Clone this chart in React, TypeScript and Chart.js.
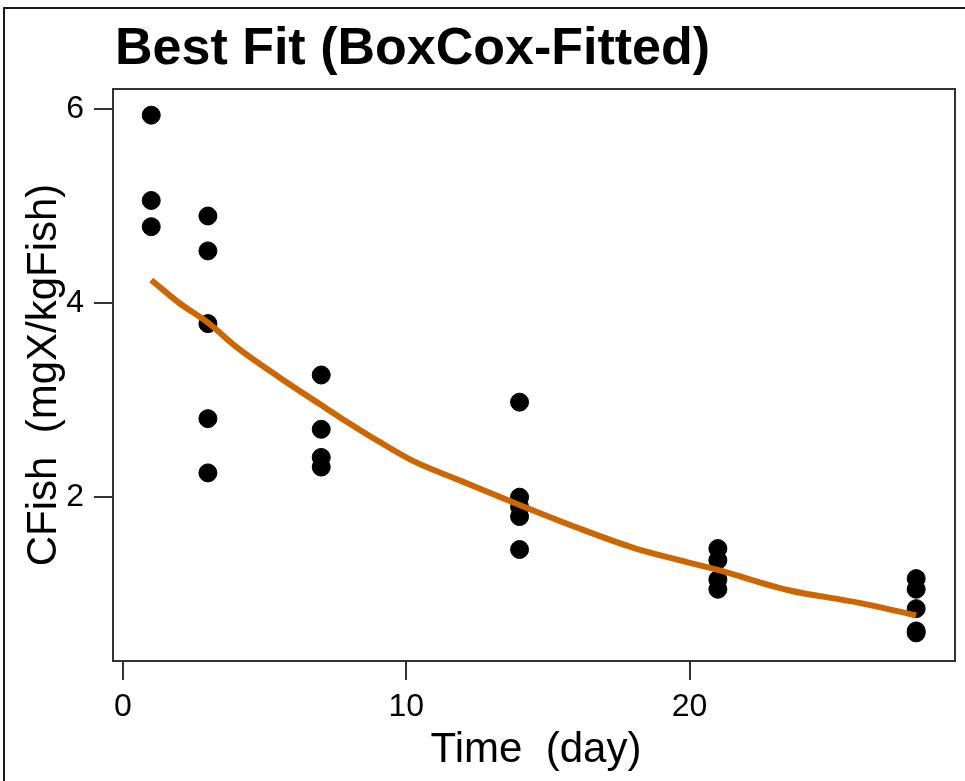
import React, { useEffect, useRef } from "react";
import { Chart, registerables } from "chart.js";

Chart.register(...registerables);

// Observed fish concentrations by sampling day
const days = [1, 1, 1, 3, 3, 3, 3, 3, 7, 7, 7, 7, 14, 14, 14, 14, 14, 21, 21, 21, 21, 28, 28, 28, 28, 28];
const cfish = [
  5.94, 5.06, 4.79,
  4.9, 4.54, 3.79, 2.81, 2.25,
  3.26, 2.7, 2.41, 2.31,
  2.98, 2.0, 1.9, 1.8, 1.46,
  1.47, 1.35, 1.15, 1.05,
  1.16, 1.05, 0.85, 0.62, 0.6,
];

// Fitted (Box-Cox) depuration curve
const fitDays = [1, 2, 3, 4, 5.5, 7, 8, 9, 10.2, 12, 14, 16, 18, 19.5, 21, 23.5, 26, 28];
const fitValues = [4.24, 4.0, 3.8, 3.55, 3.24, 2.95, 2.76, 2.58, 2.38, 2.16, 1.92, 1.69, 1.48, 1.36, 1.25, 1.04, 0.91, 0.78];

const xTicks = [0, 10, 20];
const yTicks = [2, 4, 6];

const titleText = "Best Fit (BoxCox-Fitted)";
const xTitle = "Time  (day)";
const yTitle = "CFish  (mgX/kgFish)";

const FONT = '"Liberation Sans", Arial, Helvetica, sans-serif';

const framePlugin = {
  id: "framePlugin",
  afterDraw(chart: any) {
    const { ctx, chartArea } = chart;
    ctx.save();
    // outer device frame
    ctx.strokeStyle = "#1a1a1a";
    ctx.lineWidth = 2;
    ctx.strokeRect(4, 8, 1000, 1000);
    // plot box
    ctx.strokeStyle = "#333";
    ctx.lineWidth = 2;
    ctx.strokeRect(chartArea.left, chartArea.top, chartArea.right - chartArea.left, chartArea.bottom - chartArea.top);

    ctx.fillStyle = "#000";
    ctx.font = `bold 52px ${FONT}`;
    ctx.textAlign = "left";
    ctx.textBaseline = "alphabetic";
    ctx.fillText(titleText, 115, 64);

    ctx.font = `42px ${FONT}`;
    ctx.textAlign = "center";
    ctx.fillText(xTitle, 536, 762);

    ctx.translate(56, 375);
    ctx.rotate(-Math.PI / 2);
    ctx.fillText(yTitle, 0, 0);
    ctx.restore();
  },
};

export default function App() {
  const ref = useRef<HTMLCanvasElement>(null);

  useEffect(() => {
    if (!ref.current) return;
    const points = days.map((d, i) => ({ x: d, y: cfish[i] }));
    const fit = fitDays.map((d, i) => ({ x: d, y: fitValues[i] }));

    const chart = new Chart(ref.current, {
      type: "scatter",
      data: {
        datasets: [
          {
            type: "line",
            label: "fit",
            data: fit,
            borderColor: "#CD6600",
            borderWidth: 6,
            pointRadius: 0,
            showLine: true,
            fill: false,
            cubicInterpolationMode: "monotone",
            order: 0,
          } as any,
          {
            label: "observed",
            data: points,
            backgroundColor: "#000",
            borderColor: "#000",
            pointRadius: 9,
            pointHoverRadius: 9,
            order: 1,
          },
        ],
      },
      options: {
        responsive: false,
        animation: false,
        events: [],
        layout: { padding: { top: 89, right: 5, left: 0, bottom: 0 } },
        plugins: {
          legend: { display: false },
          title: { display: false },
          tooltip: { enabled: false },
        },
        scales: {
          x: {
            type: "linear",
            min: -0.35,
            max: 29.37,
            afterBuildTicks: (s: any) => {
              s.ticks = xTicks.map((v) => ({ value: v }));
            },
            afterFit: (s: any) => {
              s.height = 120;
            },
            grid: { drawOnChartArea: false, drawTicks: true, tickLength: 19, color: "#333", lineWidth: 2 },
            border: { display: true, color: "#333", width: 2 },
            ticks: {
              color: "#000",
              font: { family: FONT, size: 32 },
              padding: 8,
              maxRotation: 0,
              callback: (v: any) => String(v),
            },
          },
          y: {
            type: "linear",
            min: 0.31,
            max: 6.21,
            afterBuildTicks: (s: any) => {
              s.ticks = yTicks.map((v) => ({ value: v }));
            },
            afterFit: (s: any) => {
              s.width = 113;
            },
            grid: { drawOnChartArea: false, drawTicks: true, tickLength: 19, color: "#333", lineWidth: 2 },
            border: { display: true, color: "#333", width: 2 },
            ticks: {
              color: "#000",
              font: { family: FONT, size: 32 },
              padding: 10,
              callback: (v: any) => String(v),
            },
          },
        },
      },
      plugins: [framePlugin],
    });
    return () => chart.destroy();
  }, []);

  return (
    <div style={{ position: "absolute", left: 0, top: 0, width: 965, height: 781, background: "#fff" }}>
      <canvas ref={ref} width={965} height={781} style={{ display: "block" }} />
    </div>
  );
}
